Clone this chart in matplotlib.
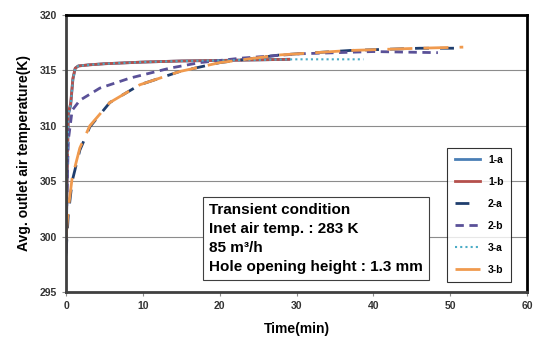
import numpy as np
import matplotlib.pyplot as plt

plt.rcParams['font.family'] = ['Liberation Sans', 'DejaVu Sans']

# ------------------
# Data
# ------------------
# 1-a / 1-b : fast response
t1 = [0.0, 0.05, 0.15, 0.3, 0.6, 0.9, 1.2, 1.6, 3, 5, 10, 15, 20, 25, 29]
T1a = [298.4, 300.5, 305.5, 311.0, 311.8, 314.2, 315.2, 315.4, 315.5, 315.6, 315.75, 315.85, 315.9, 315.95, 316.0]
T1b = [298.6, 300.8, 305.8, 311.2, 312.0, 314.3, 315.2, 315.4, 315.5, 315.6, 315.75, 315.85, 315.9, 315.95, 316.0]

# 2-a : slow response (overlaps 3-b)
t2a = [0.0, 0.3, 0.8, 1.8, 3.1, 5.7, 9.6, 14.8, 20, 27.9, 37, 46, 51.7]
T2a = [298.5, 302.0, 305.0, 307.8, 309.9, 312.1, 313.7, 314.9, 315.7, 316.4, 316.8, 317.0, 317.0]

# 2-b : middle response
t2b = [0.0, 0.1, 0.3, 0.8, 1.8, 4.4, 8.3, 13.5, 17.4, 22.7, 30.5, 40, 48.4]
T2b = [299.0, 303.0, 308.7, 311.4, 312.3, 313.4, 314.3, 315.2, 315.7, 316.1, 316.5, 316.7, 316.6]

# 3-a : fast response, flat end
t3a = [0.0, 0.05, 0.15, 0.3, 0.6, 0.9, 1.2, 1.6, 3, 5, 10, 15, 20, 25, 30, 38.7]
T3a = [299.0, 301.0, 306.0, 311.0, 311.9, 314.2, 315.2, 315.4, 315.5, 315.6, 315.75, 315.85, 315.9, 315.95, 316.0, 316.0]

# 3-b : slow response
t3b = [0.0, 0.3, 0.8, 1.8, 3.1, 5.7, 9.6, 14.8, 20, 27.9, 37, 46, 51.7]
T3b = [299.8, 302.5, 305.3, 308.0, 310.0, 312.1, 313.7, 314.9, 315.7, 316.4, 316.8, 317.0, 317.1]

fig = plt.figure(figsize=(5.38, 3.40), dpi=100)
ax = fig.add_axes([0.1227, 0.1412, 0.8569, 0.8147])

ax.plot(t1, T1a, color='#4a7eb5', lw=2.0, label='1-a')
ax.plot(t1, T1b, color='#b5504c', lw=2.0, label='1-b')
ax.plot(t2a, T2a, color='#1f3e6e', lw=2.0, dashes=(5, 4), label='2-a')
ax.plot(t2b, T2b, color='#5a5198', lw=2.0, dashes=(3, 2), label='2-b')
ax.plot(t3a, T3a, color='#4bacc6', lw=1.5, dashes=(1, 1.5), label='3-a')
ax.plot(t3b, T3b, color='#f09a4e', lw=2.0, dashes=(9, 4), label='3-b')

ax.set_xlim(0, 60)
ax.set_ylim(295, 320)
ax.set_xticks(np.arange(0, 61, 10))
ax.set_yticks(np.arange(295, 321, 5))
ax.yaxis.grid(True, color='#8c8c8c', lw=0.8)
ax.set_axisbelow(True)

for s in ax.spines.values():
    s.set_linewidth(2.0)
    s.set_color('black')
ax.spines['left'].set_color('#404040')
ax.spines['bottom'].set_color('#404040')

ax.tick_params(axis='both', labelsize=7.5, colors='#8c8c8c', length=3, width=0.8,
               labelcolor='#333333')
for lbl in ax.get_xticklabels() + ax.get_yticklabels():
    lbl.set_fontweight('bold')

ax.set_xlabel('Time(min)', fontsize=10, fontweight='bold', labelpad=8)
ax.set_ylabel('Avg. outlet air temperature(K)', fontsize=10, fontweight='bold', labelpad=6)

leg = ax.legend(loc='lower right', bbox_to_anchor=(0.965, 0.036), borderaxespad=0,
                fontsize=7.5, frameon=True, fancybox=False, edgecolor='black',
                handlelength=2.4, labelspacing=1.15, borderpad=0.7, handletextpad=0.8)
leg.get_frame().set_linewidth(0.8)
for txt in leg.get_texts():
    txt.set_fontweight('bold')

ax.text(0.31, 0.193,
        'Transient condition\nInet air temp. : 283 K\n85 m\u00b3/h\nHole opening height : 1.3 mm',
        transform=ax.transAxes, fontsize=11, fontweight='bold', va='center', ha='left',
        linespacing=1.45,
        bbox=dict(boxstyle='square,pad=0.4', fc='white', ec='#404040', lw=0.8))

plt.savefig('out.png', dpi=100)
